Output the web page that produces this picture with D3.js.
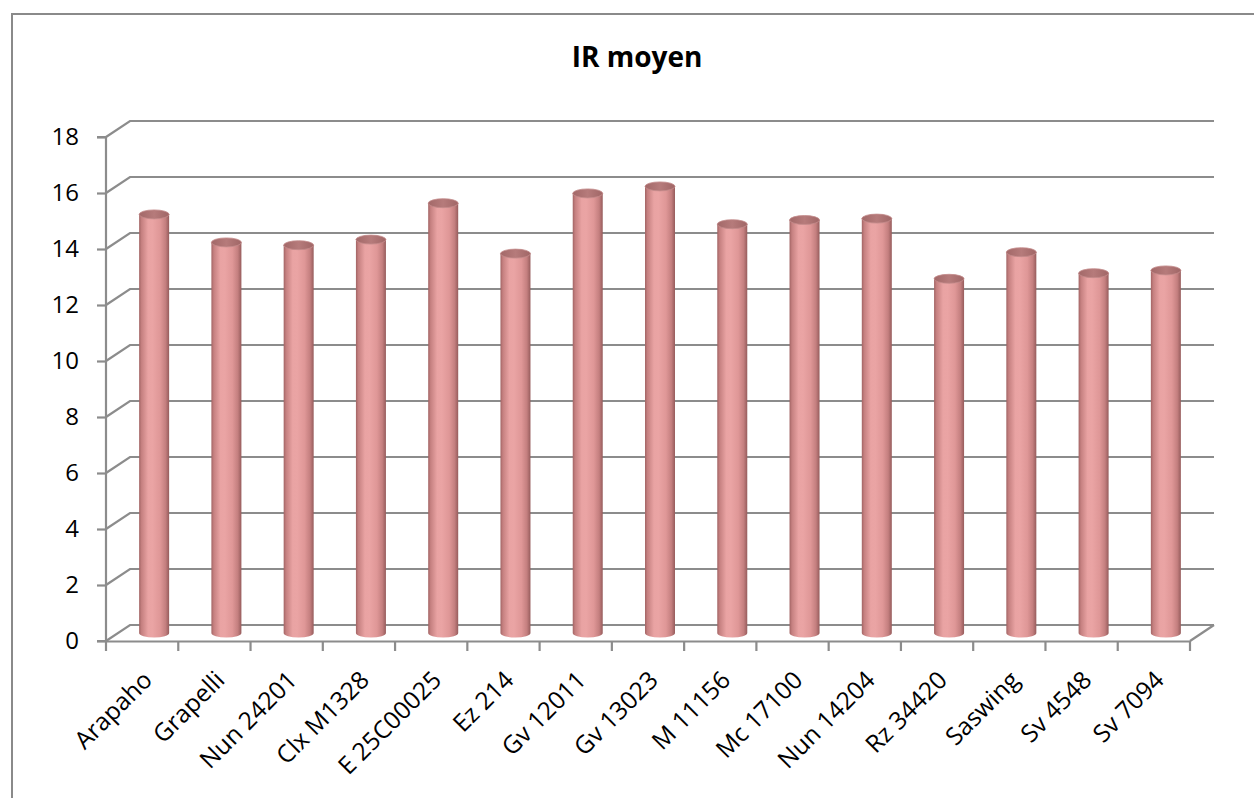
<!DOCTYPE html>
<html><head><meta charset="utf-8">
<script src="https://cdn.jsdelivr.net/npm/d3@7"></script>
<style>html,body{margin:0;padding:0;background:#fff;}svg{display:block;}</style>
</head><body>
<svg id="chart" width="1254" height="798"></svg>
<script>
const categories = ["Arapaho","Grapelli","Nun 24201","Clx M1328","E 25C00025","Ez 214","Gv 12011","Gv 13023","M 11156","Mc 17100","Nun 14204","Rz 34420","Saswing","Sv 4548","Sv 7094"];
const values = [14.95,13.95,13.85,14.05,15.35,13.55,15.7,15.95,14.6,14.75,14.8,12.65,13.6,12.85,12.95];
const yTicks = [0,2,4,6,8,10,12,14,16,18];
const title = "IR moyen";

const svg = d3.select("#chart");
const FONT = "'Open Sans', Lato, sans-serif";
const dx = 24, dy = -16;           // depth offset of back wall
const x = d3.scaleBand().domain(categories).range([106, 1190]).padding(0);
const y = d3.scaleLinear().domain([0, 18]).range([641, 137]);

// outer border (right and bottom edges fall outside the picture)
svg.append("rect").attr("x", 12).attr("y", 14).attr("width", 1400).attr("height", 900)
  .attr("fill", "none").attr("stroke", "#8a8a8a").attr("stroke-width", 2);

// title
svg.append("text").attr("x", 637).attr("y", 67).attr("text-anchor", "middle")
  .attr("font-family", FONT).attr("font-weight", "bold").attr("font-size", 28)
  .attr("fill", "#000").text(title);

const gridColor = "#8c8c8c";
const grid = svg.append("g").attr("stroke", gridColor).attr("stroke-width", 2.2).attr("fill", "none");
yTicks.forEach(t => {
  grid.append("path").attr("d", `M${x.range()[0]},${y(t)} L${x.range()[0] + dx},${y(t) + dy} L${x.range()[1] + dx},${y(t) + dy}`);
});
grid.append("path").attr("d", `M${x.range()[1]},${y(0)} L${x.range()[1] + dx},${y(0) + dy}`);

// axes (front)
const yAxis = svg.append("g").attr("transform", `translate(${x.range()[0]},0)`)
  .call(d3.axisLeft(y).tickValues(yTicks).tickSize(9).tickPadding(18).tickFormat(d3.format("d")));
const xAxis = svg.append("g").attr("transform", `translate(0,${y(0)})`)
  .call(d3.axisBottom(x).tickSize(0).tickFormat(""));
[yAxis, xAxis].forEach(g => {
  g.select(".domain").attr("stroke", gridColor).attr("stroke-width", 2.2);
  g.selectAll(".tick line").attr("stroke", gridColor).attr("stroke-width", 2.2);
});
yAxis.select(".domain").attr("d", `M-9,${y(18)}H0V${y(0)}H-9`);
yAxis.selectAll(".tick text").attr("font-family", FONT).attr("font-size", 24).attr("fill", "#000");
const bounds = categories.map(c => x(c)).concat([x.range()[1]]);
svg.append("g").selectAll("line").data(bounds).join("line")
  .attr("x1", d => d).attr("x2", d => d).attr("y1", y(0)).attr("y2", y(0) + 10)
  .attr("stroke", gridColor).attr("stroke-width", 2.2);

// category labels
svg.append("g").selectAll("text").data(categories).join("text")
  .attr("transform", d => `translate(${x(d) + x.bandwidth() / 2 + 7},${y(0) + 36}) rotate(-45)`)
  .attr("text-anchor", "end").attr("dominant-baseline", "middle")
  .attr("font-family", FONT).attr("font-size", 24.5).attr("fill", "#000").text(d => d);

// cylinder gradients
const defs = svg.append("defs");
const grad = defs.append("linearGradient").attr("id", "cyl").attr("x1", "0").attr("x2", "1").attr("y1", "0").attr("y2", "0");
[[0, "#a26464"], [0.08, "#c58080"], [0.3, "#e9a3a3"], [0.45, "#eaa4a4"], [0.7, "#df9797"], [0.88, "#c47f7f"], [1, "#965c5c"]]
  .forEach(([o, c]) => grad.append("stop").attr("offset", o).attr("stop-color", c));
const topGrad = defs.append("linearGradient").attr("id", "cyltop").attr("x1", "0").attr("x2", "1").attr("y1", "0").attr("y2", "0");
[[0, "#a26868"], [0.5, "#b67b7b"], [1, "#a06666"]]
  .forEach(([o, c]) => topGrad.append("stop").attr("offset", o).attr("stop-color", c));

const bw = 30, ry = 4.5;
const bars = svg.append("g").selectAll("g").data(categories.map((c, i) => ({ c, v: values[i] }))).join("g");
bars.append("path").attr("fill", "url(#cyl)").attr("d", d => {
  const cx = x(d.c) + x.bandwidth() / 2 + dx / 2;
  const y0 = y(0) + dy / 2, y1 = y(d.v) + dy / 2;
  const l = cx - bw / 2, r = cx + bw / 2;
  return `M${l},${y1} L${l},${y0} A${bw / 2},${ry} 0 0 0 ${r},${y0} L${r},${y1} Z`;
});
bars.append("ellipse")
  .attr("cx", d => x(d.c) + x.bandwidth() / 2 + dx / 2)
  .attr("cy", d => y(d.v) + dy / 2)
  .attr("rx", bw / 2).attr("ry", ry)
  .attr("fill", "url(#cyltop)").attr("stroke", "#c48c8c").attr("stroke-width", 0.8);
</script>
</body></html>
